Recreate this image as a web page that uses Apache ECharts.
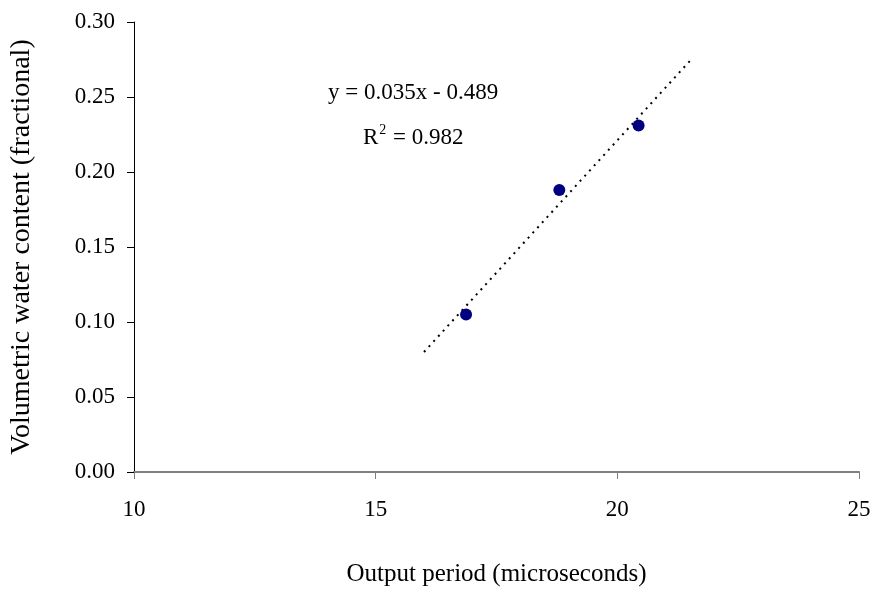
<!DOCTYPE html>
<html>
<head>
<meta charset="utf-8">
<script src="https://cdn.jsdelivr.net/npm/echarts@6/dist/echarts.min.js"></script>
<style>
  html, body { margin: 0; padding: 0; background: #fff; }
  #chart { width: 875px; height: 592px; }
</style>
</head>
<body>
<div id="chart"></div>
<script>
// measured points: output period (us) vs volumetric water content
const periods = [16.87, 18.80, 20.44];
const waterContent = [0.105, 0.188, 0.231];
// linear trendline as drawn (end points)
const trendX = [16.0, 21.5];
const trendY = [0.080, 0.274];
const equationText = 'y = 0.035x - 0.489';
const r2Text = '0.982';

const font = '"Liberation Serif", "Times New Roman", serif';

const chart = echarts.init(document.getElementById('chart'));
chart.setOption({
  backgroundColor: '#fff',
  animation: false,
  textStyle: { fontFamily: font },
  grid: { left: 134, right: 16, top: 22, bottom: 119 },
  xAxis: {
    type: 'value',
    min: 10, max: 25, interval: 5,
    name: 'Output period (microseconds)',
    nameLocation: 'middle',
    nameGap: 90,
    nameTextStyle: { fontFamily: font, fontSize: 25, color: '#000' },
    axisLine: { show: true, lineStyle: { color: '#808080', width: 2 } },
    axisTick: { show: true, length: 7, lineStyle: { color: '#808080', width: 1 } },
    axisLabel: { fontFamily: font, fontSize: 23, color: '#000', margin: 26 },
    splitLine: { show: false }
  },
  yAxis: {
    type: 'value',
    min: 0, max: 0.3, interval: 0.05,
    name: 'Volumetric water content (fractional)',
    nameLocation: 'middle',
    nameGap: 98,
    nameTextStyle: { fontFamily: font, fontSize: 28, color: '#000' },
    axisLine: { show: true, lineStyle: { color: '#000', width: 1 } },
    axisTick: { show: true, length: 7, lineStyle: { color: '#000', width: 1 } },
    axisLabel: {
      fontFamily: font, fontSize: 23, color: '#000', margin: 19,
      formatter: v => v.toFixed(2)
    },
    splitLine: { show: false }
  },
  graphic: [
    {
      type: 'text', left: 328, top: 81,
      style: { text: equationText, font: '23px ' + font, fill: '#000' }
    },
    {
      type: 'text', left: 363, top: 123,
      style: {
        text: '{r|R}{s|2}{r| = ' + r2Text + '}',
        rich: {
          r: { fontFamily: font, fontSize: 23, fill: '#000', verticalAlign: 'bottom' },
          s: { fontFamily: font, fontSize: 14, fill: '#000', verticalAlign: 'top', padding: [0, 1, 12, 1] }
        }
      }
    }
  ],
  series: [
    {
      type: 'line',
      data: trendX.map((x, i) => [x, trendY[i]]),
      showSymbol: false,
      symbol: 'none',
      lineStyle: { color: '#000', width: 2, type: [2, 5] },
      z: 1
    },
    {
      type: 'scatter',
      data: periods.map((x, i) => [x, waterContent[i]]),
      symbol: 'circle',
      symbolSize: 12,
      itemStyle: { color: '#000080', opacity: 1 },
      z: 3
    }
  ]
});
</script>
</body>
</html>
